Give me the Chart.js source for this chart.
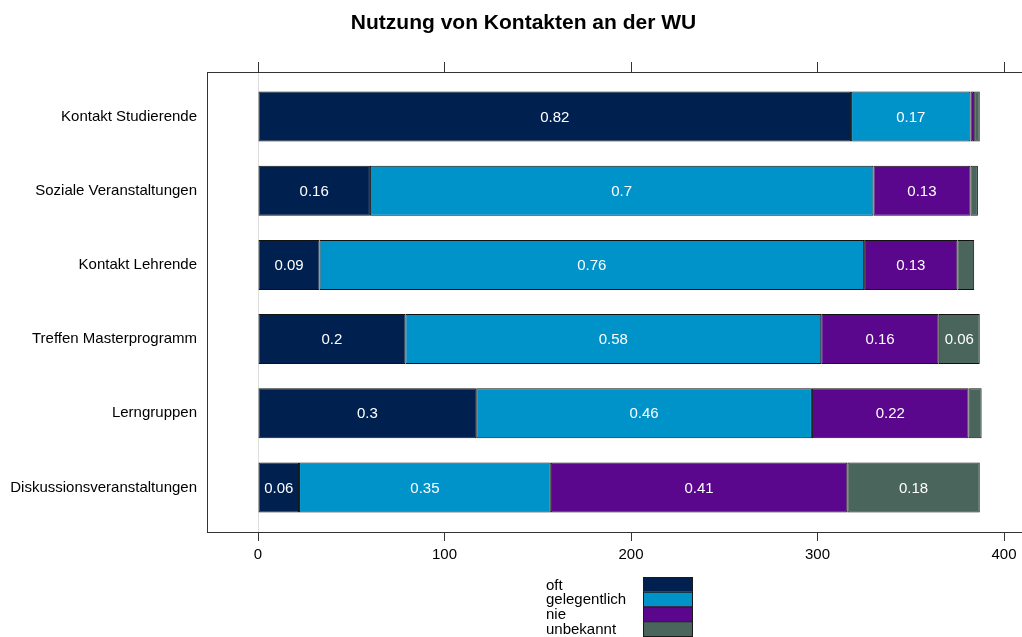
<!DOCTYPE html>
<html>
<head>
<meta charset="utf-8">
<script src="https://cdn.jsdelivr.net/npm/chart.js@4"></script>
<style>
  body { margin: 0; overflow: hidden; background: #fff; }
</style>
</head>
<body>
<canvas id="contactChart" width="1040" height="637"></canvas>
<script>
// Data (counts)
const categories = ['Kontakt Studierende', 'Soziale Veranstaltungen', 'Kontakt Lehrende', 'Treffen Masterprogramm', 'Lerngruppen', 'Diskussionsveranstaltungen'];
const seriesNames = ['oft', 'gelegentlich', 'nie', 'unbekannt'];
const oft = [318, 60, 33, 79, 117, 22];
const gelegentlich = [64, 270, 292, 223, 180, 135];
const nie = [2, 52, 50, 63, 84, 159];
const unbekannt = [3, 4, 9, 22, 7, 71];
const xTicks = [0, 100, 200, 300, 400];

const colors = ['#00214F', '#0093C9', '#5A078E', '#4A665C'];
const FONT = "'Liberation Sans', Arial, sans-serif";

Chart.defaults.font.family = FONT;
Chart.defaults.color = '#000';

function toPoints(values) {
    return values.map((v, i) => ({ x: v, y: i }));
}

const datasets = [oft, gelegentlich, nie, unbekannt].map((values, k) => ({
    label: seriesNames[k],
    data: toPoints(values),
    backgroundColor: colors[k],
    borderColor: '#111',
    borderWidth: 1,
    borderSkipped: false,
    categoryPercentage: 1,
    barPercentage: 0.674
}));

// Share labels inside the segments
const shareLabels = {
    id: 'shareLabels',
    afterDatasetsDraw(chart) {
        const ctx = chart.ctx;
        const all = chart.data.datasets;
        ctx.save();
        ctx.font = '15px ' + FONT;
        ctx.fillStyle = '#fff';
        ctx.textAlign = 'center';
        ctx.textBaseline = 'middle';
        all.forEach((ds, k) => {
            const meta = chart.getDatasetMeta(k);
            meta.data.forEach((bar, i) => {
                const total = all.reduce((s, d) => s + d.data[i].x, 0);
                const share = ds.data[i].x / total;
                if (share < 0.05) return;
                const text = String(Number(share.toFixed(2)));
                ctx.fillText(text, (bar.x + bar.base) / 2, bar.y + 1);
            });
        });
        ctx.restore();
    }
};

// Legend below the plot: names on the left, stacked swatches on the right
const boxLegend = {
    id: 'boxLegend',
    afterDraw(chart) {
        const ctx = chart.ctx;
        const left = 643, top = 577, w = 49, h = 14.75;
        ctx.save();
        ctx.font = '15px ' + FONT;
        ctx.textAlign = 'left';
        ctx.textBaseline = 'middle';
        chart.data.datasets.forEach((ds, k) => {
            const y = top + k * h;
            ctx.fillStyle = ds.backgroundColor;
            ctx.fillRect(left, y, w, h);
            ctx.strokeStyle = '#1a1a1a';
            ctx.lineWidth = 1;
            ctx.strokeRect(left + 0.5, y + 0.5, w, h);
            ctx.fillStyle = '#000';
            ctx.fillText(ds.label, 546, y + h / 2 + 1);
        });
        ctx.restore();
    }
};

const setXTicks = s => { s.ticks = xTicks.map(v => ({ value: v })); };

new Chart(document.getElementById('contactChart'), {
    type: 'bar',
    data: { datasets: datasets },
    options: {
        indexAxis: 'y',
        responsive: false,
        animation: false,
        layout: { padding: { top: 0, left: 7, right: 0, bottom: 65 } },
        plugins: {
            legend: { display: false },
            tooltip: { enabled: false },
            title: {
                display: true,
                text: 'Nutzung von Kontakten an der WU',
                color: '#000',
                font: { size: 21, weight: 'bold', family: FONT },
                padding: { top: 11, bottom: 0 }
            }
        },
        scales: {
            x: {
                type: 'linear',
                position: 'bottom',
                stacked: true,
                min: -27.35,
                max: 419.3,
                afterBuildTicks: setXTicks,
                afterFit: s => { s.height = 40; },
                grid: {
                    color: c => (c.tick && c.tick.value === 0) ? '#dddddd' : 'rgba(0,0,0,0)',
                    tickColor: '#333',
                    tickLength: 9
                },
                border: { display: true, color: '#333', width: 1 },
                ticks: { font: { size: 15 }, padding: 5, maxRotation: 0, autoSkip: false }
            },
            x2: {
                type: 'linear',
                position: 'top',
                min: -27.35,
                max: 419.3,
                afterBuildTicks: setXTicks,
                afterFit: s => { s.height = 35.8; },
                grid: { drawOnChartArea: false, tickColor: '#333', tickLength: 10 },
                border: { display: true, color: '#333', width: 1 },
                ticks: { display: false }
            },
            y: {
                type: 'linear',
                stacked: true,
                reverse: true,
                offset: false,
                min: -0.6,
                max: 5.6,
                afterBuildTicks: s => { s.ticks = categories.map((c, i) => ({ value: i })); },
                afterFit: s => { s.width = 200; },
                grid: { display: false, drawTicks: false, offset: false },
                border: { display: true, color: '#333', width: 1 },
                ticks: {
                    font: { size: 15 },
                    padding: 10,
                    autoSkip: false,
                    callback: v => categories[v]
                }
            }
        }
    },
    plugins: [shareLabels, boxLegend]
});
</script>
</body>
</html>
